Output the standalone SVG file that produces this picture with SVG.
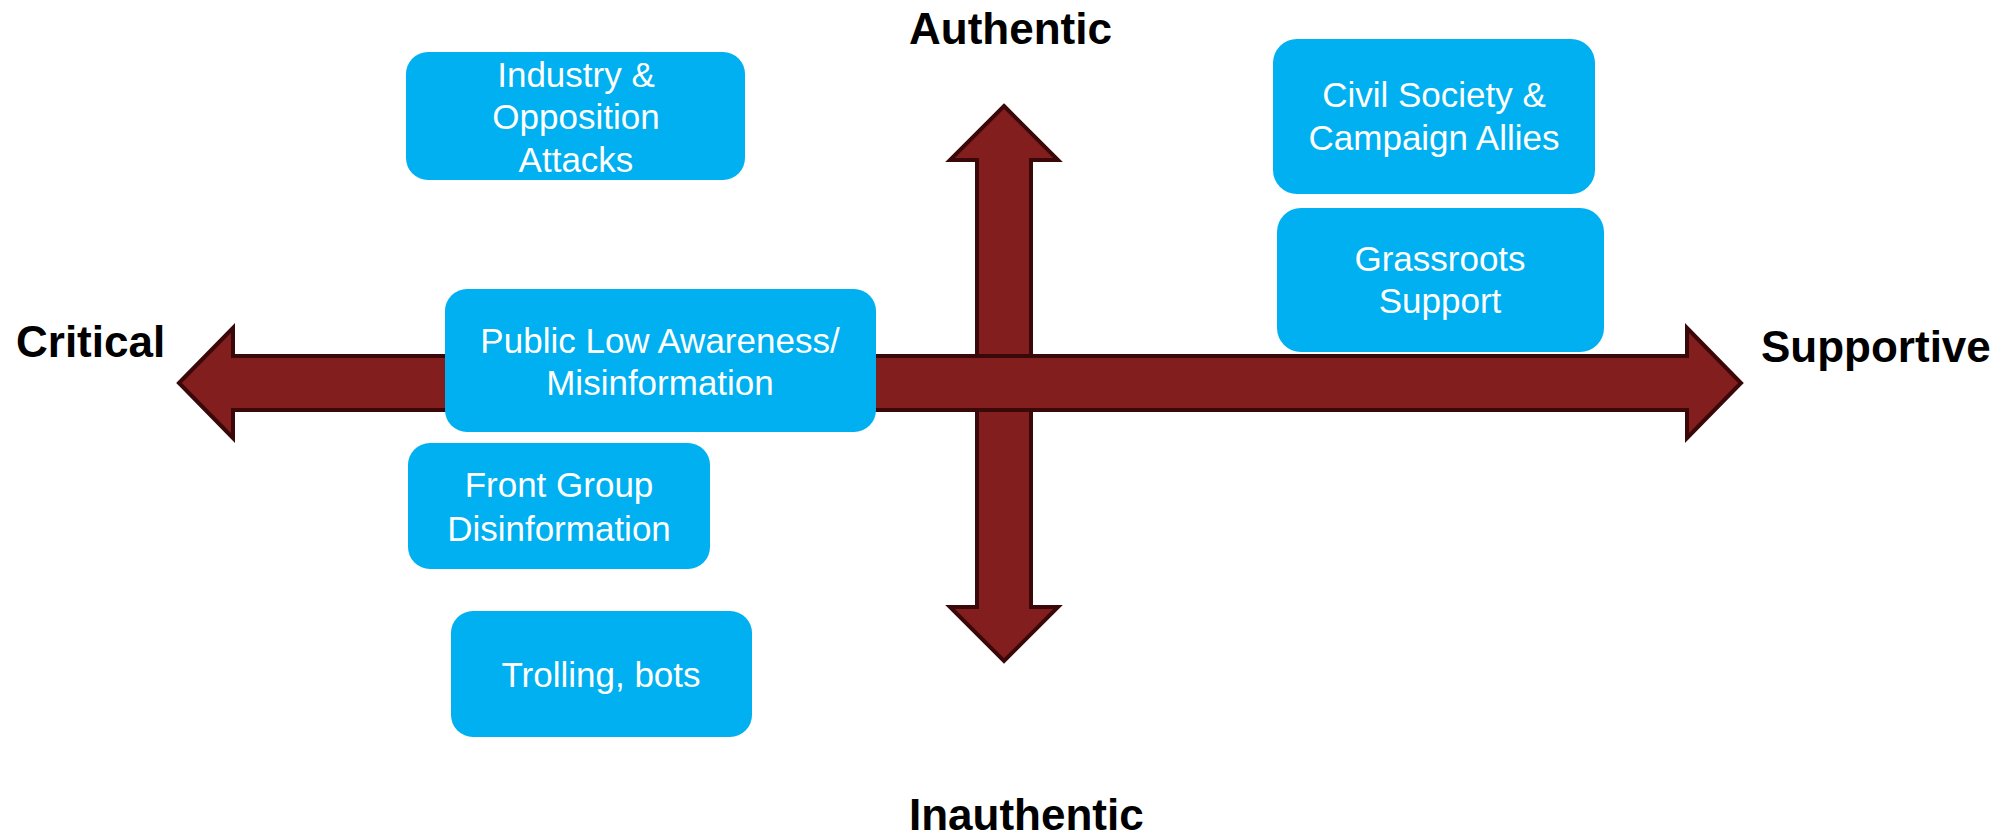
<svg xmlns="http://www.w3.org/2000/svg" width="2006" height="840" viewBox="0 0 2006 840">
<style>
.box{fill:#00B0F0;}
.bt{font-family:"Liberation Sans",Arial,sans-serif;font-size:35px;fill:#FFFFFF;text-anchor:middle;}
.axis{font-family:"Liberation Sans",Arial,sans-serif;font-size:44px;font-weight:bold;fill:#000000;}
.arrow{fill:#821E1E;stroke:#3A0808;stroke-width:4;stroke-linejoin:miter;}
</style>
<rect width="2006" height="840" fill="#FFFFFF"/>
<g id="connectors">
<path class="arrow" d="M1004,106 L1058,160 L1031,160 L1031,607 L1058,607 L1004,661 L950,607 L977,607 L977,160 L950,160 Z"/>
<path class="arrow" d="M179,383 L233,328 L233,356 L1687,356 L1687,328 L1741,383 L1687,438 L1687,410 L233,410 L233,438 Z"/>
</g>
<g id="label-authentic"><text class="axis" x="909" y="44">Authentic</text></g>
<g id="label-inauthentic"><text class="axis" x="909" y="830">Inauthentic</text></g>
<g id="label-critical"><text class="axis" x="16" y="357">Critical</text></g>
<g id="label-supportive"><text class="axis" x="1761" y="362">Supportive</text></g>
<g id="node-industry">
<rect class="box" x="406" y="52" width="339" height="128" rx="22"/>
<text class="bt" x="576" y="87">Industry &amp;</text>
<text class="bt" x="576" y="129">Opposition</text>
<text class="bt" x="576" y="172">Attacks</text>
</g>
<g id="node-civil">
<rect class="box" x="1273" y="39" width="322" height="155" rx="24"/>
<text class="bt" x="1434" y="107">Civil Society &amp;</text>
<text class="bt" x="1434" y="150">Campaign Allies</text>
</g>
<g id="node-grassroots">
<rect class="box" x="1277" y="208" width="327" height="144" rx="24"/>
<text class="bt" x="1440" y="271">Grassroots</text>
<text class="bt" x="1440" y="313">Support</text>
</g>
<g id="node-public">
<rect class="box" x="445" y="289" width="431" height="143" rx="22"/>
<text class="bt" x="660" y="353">Public Low Awareness/</text>
<text class="bt" x="660" y="395">Misinformation</text>
</g>
<g id="node-front">
<rect class="box" x="408" y="443" width="302" height="126" rx="22"/>
<text class="bt" x="559" y="497">Front Group</text>
<text class="bt" x="559" y="541">Disinformation</text>
</g>
<g id="node-trolling">
<rect class="box" x="451" y="611" width="301" height="126" rx="22"/>
<text class="bt" x="601" y="687">Trolling, bots</text>
</g>
</svg>
